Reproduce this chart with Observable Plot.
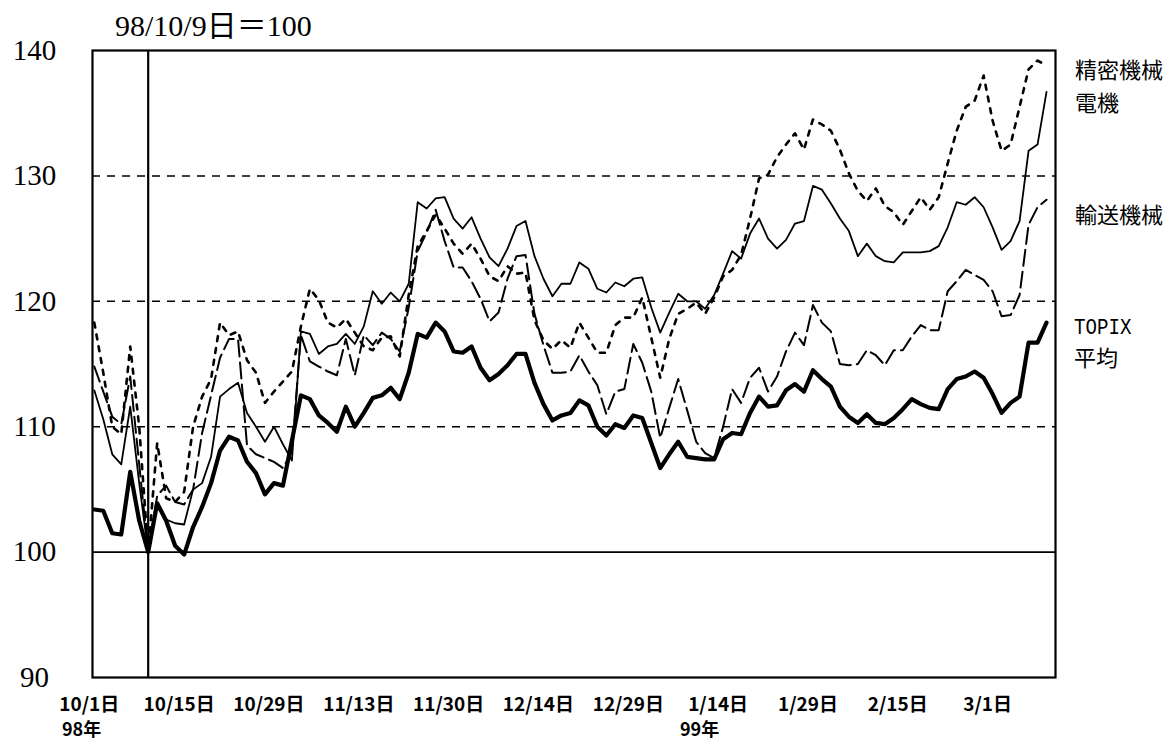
<!DOCTYPE html>
<html><head><meta charset="utf-8">
<script src="https://cdn.jsdelivr.net/npm/d3@7"></script>
<script src="https://cdn.jsdelivr.net/npm/@observablehq/plot@0.6"></script>
<style>
body{margin:0;background:#fff;}
#wrap{position:relative;width:1173px;height:743px;overflow:hidden;background:#fff;}
.t{position:absolute;white-space:nowrap;color:#000;line-height:1;}
.jp{font-family:"Noto Sans CJK JP",sans-serif;font-size:22px;}
.xl{font-family:"Noto Sans CJK JP",sans-serif;font-size:18px;font-weight:bold;}
</style></head><body><div id="wrap"></div>
<script>
// trading-day index 0 = 98/10/1 ... 106 = 99/3/9
const tickIndex = [0,10,20,30,40,50,60,70,80,90,100];
const tickLabels = ["10/1日","10/15日","10/29日","11/13日","11/30日","12/14日","12/29日","1/14日","1/29日","2/15日","3/1日"];
const yTicks = [90,100,110,120,130,140];
const gridDashed = [110,120,130];
const baseDayIndex = 6; // 98/10/9 = 100

const topix = [103.4,103.3,101.5,101.4,106.4,102.5,100.0,103.9,102.5,100.5,
99.8,102.0,103.6,105.5,108.1,109.2,108.9,107.2,106.3,104.6,
105.5,105.3,108.9,112.5,112.2,110.9,110.3,109.6,111.6,110.0,
111.1,112.3,112.5,113.1,112.2,114.3,117.4,117.1,118.3,117.6,
116.0,115.9,116.4,114.7,113.7,114.2,114.9,115.8,115.8,113.5,
111.8,110.5,110.9,111.1,112.1,111.7,110.0,109.3,110.2,109.9,
110.9,110.7,108.7,106.7,107.8,108.8,107.6,107.5,107.4,107.4,
109.0,109.5,109.4,111.1,112.4,111.6,111.7,112.9,113.4,112.8,
114.5,113.8,113.2,111.6,110.8,110.3,111.0,110.3,110.2,110.7,
111.4,112.2,111.8,111.5,111.4,113.0,113.8,114.0,114.4,113.9,
112.6,111.1,111.9,112.4,116.7,116.7,118.3];

const denki = [112.9,110.6,107.8,107.0,111.6,105.5,100.0,103.6,102.6,102.3,
102.2,105.0,105.5,107.6,112.4,113.0,113.5,111.1,110.0,108.8,
110.0,108.6,107.3,117.6,117.4,115.8,116.4,116.6,117.4,116.6,
118.0,120.8,119.8,120.7,120.0,121.4,127.9,127.4,128.2,128.3,
126.6,125.8,126.7,125.0,123.5,122.8,124.2,126.0,126.4,123.6,
121.8,120.4,121.4,121.4,123.1,122.6,121.0,120.7,121.5,121.2,
121.8,121.9,119.5,117.5,119.1,120.6,120.0,120.0,119.4,120.5,
122.2,124.0,123.4,125.4,126.6,125.0,124.2,124.9,126.2,126.4,
129.2,128.9,127.8,126.6,125.6,123.6,124.6,123.6,123.2,123.1,
123.9,123.9,123.9,124.0,124.4,125.9,127.9,127.7,128.3,127.5,
125.9,124.1,124.8,126.4,132.0,132.5,136.7];

const seimitsu = [118.3,114.3,110.0,109.4,116.4,110.0,100.0,108.7,104.3,104.0,
104.8,110.0,112.4,113.8,118.3,117.3,117.6,115.3,114.3,111.9,
112.8,113.6,114.4,118.0,121.0,120.1,118.3,117.9,118.6,117.5,
116.4,116.1,117.1,117.2,115.6,120.5,124.4,125.6,126.9,125.8,
124.6,123.8,124.6,123.4,122.0,121.6,122.8,122.2,122.3,118.5,
116.9,116.2,116.9,116.3,118.3,117.1,115.9,115.9,118.1,118.7,
118.7,120.3,117.1,113.9,117.0,119.0,119.4,119.9,119.0,120.3,
122.0,122.5,123.7,126.6,129.8,130.1,131.5,132.5,133.4,132.1,
134.5,134.1,133.6,132.1,130.2,128.8,128.0,129.0,127.6,127.1,
126.1,127.2,128.3,127.3,128.3,131.0,133.6,135.5,136.0,138.0,
134.4,132.0,132.5,135.5,138.5,139.2,138.8];

const yuso = [114.8,112.8,110.8,110.2,114.0,107.0,100.0,104.5,105.3,104.0,
103.8,105.0,109.5,112.5,115.5,117.0,117.0,108.5,107.8,107.5,
107.2,106.7,108.0,117.3,115.2,114.8,114.4,114.1,117.0,114.1,
117.3,116.5,117.5,117.0,116.0,119.5,124.0,125.5,127.3,124.8,
122.7,122.7,121.6,120.2,118.4,119.1,121.8,123.6,123.7,119.0,
116.5,114.3,114.3,114.4,115.7,114.4,113.3,111.0,112.8,113.0,
116.6,115.1,112.8,109.1,111.5,113.8,111.3,108.8,107.9,107.5,
110.0,113.0,111.9,113.9,114.7,112.8,114.0,116.0,117.5,116.5,
119.7,118.3,117.6,115.0,114.9,115.0,116.1,115.7,114.9,116.1,
116.1,117.2,118.1,117.7,117.7,120.8,121.6,122.5,122.1,121.7,
120.8,118.8,118.9,120.5,126.1,127.5,128.1];

const toRows = (arr) => arr.map((v, i) => ({i, v}));

const plot = Plot.plot({
  width: 1173,
  height: 743,
  marginLeft: 92,
  marginRight: 118,
  marginTop: 50,
  marginBottom: 66,
  style: {background: "#fff", color: "#000"},
  x: {domain: [-0.2, 107.0]},
  y: {domain: [90, 140]},
  marks: [
    Plot.ruleY(gridDashed, {stroke: "#000", strokeWidth: 1.5, strokeDasharray: "8,7"}),
    Plot.ruleY([100], {stroke: "#000", strokeWidth: 1.8}),
    Plot.ruleX([baseDayIndex], {stroke: "#000", strokeWidth: 2.2}),
    Plot.line(toRows(yuso), {x: "i", y: "v", stroke: "#000", strokeWidth: 2, strokeDasharray: "16,6"}),
    Plot.line(toRows(seimitsu), {x: "i", y: "v", stroke: "#000", strokeWidth: 2.6, strokeDasharray: "5,7"}),
    Plot.line(toRows(denki), {x: "i", y: "v", stroke: "#000", strokeWidth: 1.8}),
    Plot.line(toRows(topix), {x: "i", y: "v", stroke: "#000", strokeWidth: 4.2}),
    Plot.frame({stroke: "#000", strokeWidth: 2.2}),
    Plot.axisX({ticks: tickIndex, tickFormat: (d) => tickLabels[tickIndex.indexOf(d)], tickSize: 0, tickPadding: 20, dx: -5,
      fontSize: 19, fontWeight: "bold", fontFamily: "Noto Sans CJK JP, sans-serif", label: null}),
    Plot.axisY({ticks: yTicks, tickSize: 0, tickPadding: 58, textAnchor: "middle",
      fontSize: 29, fontFamily: "Liberation Serif, serif", label: null})
  ]
});

const wrap = document.getElementById("wrap");
wrap.appendChild(plot);

const overlays = [
  {text: "98/10/9日＝100", left: 115, top: 11, style: "font-family:'Liberation Serif','Noto Sans CJK JP',serif;font-size:30px;"},
  {text: "精密機械", left: 1075, top: 57, cls: "jp"},
  {text: "電機", left: 1075, top: 90, cls: "jp"},
  {text: "輸送機械", left: 1075, top: 202, cls: "jp"},
  {text: "TOPIX", left: 1074, top: 318, style: "font-family:'Liberation Mono',monospace;font-size:22px;transform:scaleX(0.87);transform-origin:left top;"},
  {text: "平均", left: 1074, top: 345, cls: "jp"},
  {text: "98年", left: 62, top: 719, cls: "xl"},
  {text: "99年", left: 680, top: 719, cls: "xl"}
];
for (const o of overlays) {
  const d = document.createElement("div");
  d.className = "t " + (o.cls || "");
  d.textContent = o.text;
  d.style.cssText += `left:${o.left}px;top:${o.top}px;` + (o.style || "");
  wrap.appendChild(d);
}
</script>
</body></html>
